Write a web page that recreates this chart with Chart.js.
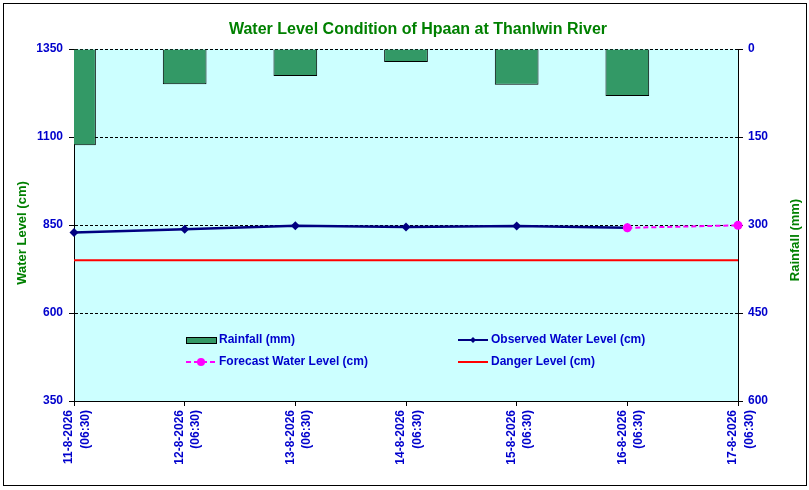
<!DOCTYPE html>
<html>
<head>
<meta charset="utf-8">
<script src="https://cdn.jsdelivr.net/npm/chart.js@4"></script>
<style>
  html, body { margin: 0; padding: 0; background: #fff; }
  #wrap { width: 809px; height: 490px; }
</style>
</head>
<body>
<div id="wrap"><canvas id="chart" width="809" height="490"></canvas></div>
<script>
// chart values
const chartTitle = 'Water Level Condition of Hpaan at Thanlwin River';
const dateLabels = [
  ['11-8-2026', '(06:30)'],
  ['12-8-2026', '(06:30)'],
  ['13-8-2026', '(06:30)'],
  ['14-8-2026', '(06:30)'],
  ['15-8-2026', '(06:30)'],
  ['16-8-2026', '(06:30)'],
  ['17-8-2026', '(06:30)']
];
const rainfall = [164, 60, 46, 22, 61, 80];
const observedLevel = [829, 838, 848, 844, 847, 842];
const forecastLevel = [null, null, null, null, null, 842, 849];
const dangerLevel = [750, 750, 750, 750, 750, 750, 750];
const levelTicks = { min: 350, max: 1350, step: 250 };
const rainTicks = { min: 0, max: 600, step: 150 };

const BLUE = '#0000CC';
const GREEN = '#008000';
const FONT = "'Liberation Sans', Arial, sans-serif";

// background, frame, titles and legend
const decorPlugin = {
  id: 'decor',
  beforeDraw(chart) {
    const ctx = chart.ctx;
    const a = chart.chartArea;
    ctx.save();
    ctx.fillStyle = '#ffffff';
    ctx.fillRect(0, 0, chart.width, chart.height);
    ctx.strokeStyle = '#000000';
    ctx.lineWidth = 1;
    ctx.strokeRect(3.5, 3.5, 803, 482);
    ctx.fillStyle = '#CCFFFF';
    ctx.fillRect(a.left, a.top, a.right - a.left, a.bottom - a.top);
    ctx.restore();
  },
  afterDraw(chart) {
    const ctx = chart.ctx;
    const ds = chart.data.datasets;
    ctx.save();
    ctx.fillStyle = GREEN;
    ctx.font = 'bold 16px ' + FONT;
    ctx.textAlign = 'center';
    ctx.textBaseline = 'middle';
    ctx.fillText(chartTitle, 418, 30);

    ctx.font = 'bold 13px ' + FONT;
    ctx.save();
    ctx.translate(22, 233);
    ctx.rotate(-Math.PI / 2);
    ctx.fillText('Water Level (cm)', 0, 0);
    ctx.restore();
    ctx.save();
    ctx.translate(795, 240);
    ctx.rotate(-Math.PI / 2);
    ctx.fillText('Rainfall (mm)', 0, 0);
    ctx.restore();

    // legend
    ctx.font = 'bold 12px ' + FONT;
    ctx.textAlign = 'left';
    ctx.fillStyle = BLUE;

    // Rainfall
    ctx.fillStyle = ds[0].backgroundColor;
    ctx.fillRect(186, 337, 30, 6);
    ctx.strokeStyle = '#000';
    ctx.lineWidth = 1;
    ctx.strokeRect(186.5, 337.5, 30, 6);
    ctx.fillStyle = BLUE;
    ctx.fillText(ds[0].label, 219, 340);

    // Forecast
    ctx.strokeStyle = ds[2].borderColor;
    ctx.lineWidth = 2;
    ctx.setLineDash([5, 3]);
    ctx.beginPath();
    ctx.moveTo(186, 362);
    ctx.lineTo(216, 362);
    ctx.stroke();
    ctx.setLineDash([]);
    ctx.fillStyle = ds[2].pointBackgroundColor;
    ctx.beginPath();
    ctx.arc(201, 362, 4, 0, Math.PI * 2);
    ctx.fill();
    ctx.fillStyle = BLUE;
    ctx.fillText(ds[2].label, 219, 362);

    // Observed
    ctx.strokeStyle = ds[1].borderColor;
    ctx.lineWidth = 2;
    ctx.beginPath();
    ctx.moveTo(458, 340);
    ctx.lineTo(488, 340);
    ctx.stroke();
    ctx.fillStyle = ds[1].borderColor;
    ctx.beginPath();
    ctx.moveTo(473, 337);
    ctx.lineTo(476, 340);
    ctx.lineTo(473, 343);
    ctx.lineTo(470, 340);
    ctx.closePath();
    ctx.fill();
    ctx.fillStyle = BLUE;
    ctx.fillText(ds[1].label, 491, 340);

    // Danger
    ctx.strokeStyle = ds[3].borderColor;
    ctx.lineWidth = 2;
    ctx.beginPath();
    ctx.moveTo(458, 362);
    ctx.lineTo(488, 362);
    ctx.stroke();
    ctx.fillStyle = BLUE;
    ctx.fillText(ds[3].label, 491, 362);
    ctx.restore();
  }
};

const tickFont = { family: FONT, size: 12, weight: 'bold' };
const plainNumber = v => String(v);

new Chart(document.getElementById('chart'), {
  type: 'bar',
  data: {
    labels: dateLabels,
    datasets: [
      {
        type: 'bar',
        label: 'Rainfall (mm)',
        data: rainfall,
        yAxisID: 'y2',
        backgroundColor: '#339966',
        borderColor: '#000000',
        borderWidth: 1,
        barPercentage: 1,
        categoryPercentage: 0.395,
        order: 4
      },
      {
        type: 'line',
        label: 'Observed Water Level (cm)',
        data: observedLevel,
        yAxisID: 'y',
        borderColor: '#000080',
        backgroundColor: '#000080',
        borderWidth: 2.5,
        pointStyle: 'rectRot',
        pointRadius: 4.5,
        pointBackgroundColor: '#000080',
        pointBorderWidth: 0,
        tension: 0,
        clip: false,
        order: 2
      },
      {
        type: 'line',
        label: 'Forecast Water Level (cm)',
        data: forecastLevel,
        yAxisID: 'y',
        borderColor: '#FF00FF',
        backgroundColor: '#FF00FF',
        borderWidth: 2,
        borderDash: [5, 3],
        pointStyle: 'circle',
        pointRadius: 4.5,
        pointBackgroundColor: '#FF00FF',
        pointBorderWidth: 0,
        tension: 0,
        clip: false,
        order: 1
      },
      {
        type: 'line',
        label: 'Danger Level (cm)',
        data: dangerLevel,
        yAxisID: 'y',
        borderColor: '#FF0000',
        borderWidth: 2,
        pointRadius: 0,
        tension: 0,
        order: 3
      }
    ]
  },
  options: {
    responsive: false,
    animation: false,
    devicePixelRatio: 1,
    layout: { padding: { top: 49, left: 0, right: 0, bottom: 0 } },
    plugins: {
      legend: { display: false },
      title: { display: false },
      tooltip: { enabled: false }
    },
    scales: {
      x: {
        type: 'category',
        offset: false,
        grid: { offset: false, drawOnChartArea: false, drawTicks: true, tickLength: 5, color: '#000' },
        border: { display: true, color: '#000', width: 1 },
        ticks: {
          color: BLUE,
          font: Object.assign({ lineHeight: 1.35 }, tickFont),
          minRotation: 90,
          maxRotation: 90,
          autoSkip: false,
          padding: 4,
          labelOffset: -5
        },
        afterFit(scale) { scale.height = 89; }
      },
      y: {
        position: 'left',
        min: levelTicks.min,
        max: levelTicks.max,
        grid: {
          color: '#000',
          lineWidth: 1,
          tickBorderDash: [],
          tickLength: 5
        },
        border: { display: true, color: '#000', width: 1, dash: [3, 2] },
        ticks: { stepSize: levelTicks.step, color: BLUE, font: tickFont, padding: 6, callback: plainNumber },
        afterFit(scale) { scale.width = 74; }
      },
      y2: {
        position: 'right',
        reverse: true,
        min: rainTicks.min,
        max: rainTicks.max,
        grid: { drawOnChartArea: false, color: '#000', tickLength: 5 },
        border: { display: true, color: '#000', width: 1 },
        ticks: { stepSize: rainTicks.step, color: BLUE, font: tickFont, padding: 5, callback: plainNumber },
        afterFit(scale) { scale.width = 71; }
      }
    }
  },
  plugins: [decorPlugin]
});
</script>
</body>
</html>
